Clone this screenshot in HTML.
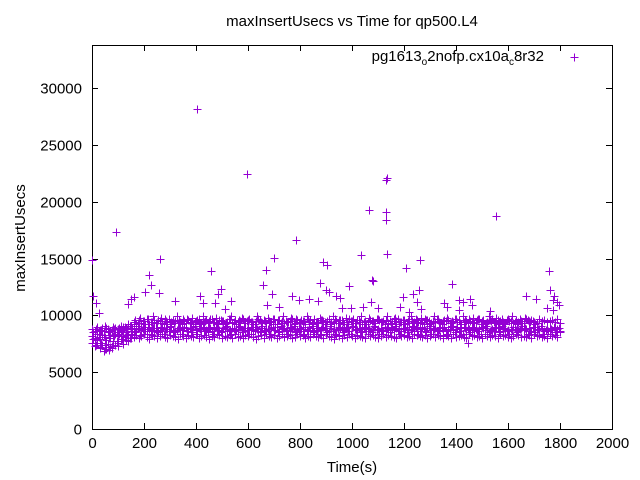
<!DOCTYPE html>
<html><head><meta charset="utf-8"><style>
html,body{margin:0;padding:0;background:#fff;}
svg{display:block;font-family:"Liberation Sans",sans-serif;}
</style></head><body>
<svg id="chart" width="640" height="480" viewBox="0 0 640 480">
<rect x="0" y="0" width="640" height="480" fill="#fff"/>
<text x="352" y="26" font-size="15" text-anchor="middle">maxInsertUsecs vs Time for qp500.L4</text>
<g id="axes"></g>
<g id="points"></g>
<text x="352" y="472" font-size="15" text-anchor="middle">Time(s)</text>
<text transform="translate(25,238) rotate(-90)" font-size="15" text-anchor="middle">maxInsertUsecs</text>
<g>
<text x="544" y="61" font-size="15" text-anchor="end">pg1613<tspan font-size="10" dy="4">o</tspan><tspan dy="-4">2nofp.cx10a</tspan><tspan font-size="10" dy="4">c</tspan><tspan dy="-4">8r32</tspan></text>
<path d="M570.5,57.5h8M574.5,53.5v8" stroke="#9400d3" stroke-width="1"/>
</g>
</svg>
<script>
const xTicks=[0,200,400,600,800,1000,1200,1400,1600,1800,2000];
const yTicks=[0,5000,10000,15000,20000,25000,30000];
const bandStart=0, bandStep=10;
const bandA=[76,73,78,71,74,70,75,72,77,74,76,79,75,78,77,80,
81,83,80,82,84,81,79,83,82,80,82,84,81,80,83,82,81,79,84,82,80,83,82,81,84,80,82,83,81,79,82,81,84,83,80,82,81,83,80,84,81,82,80,83,82,84,81,79,82,83,80,84,82,81,83,80,82,84,81,82,83,80,81,84,82,83,80,82,81,84,82,81,83,80,84,82,81,79,83,82,80,83,81,84,82,80,83,82,81,80,84,82,83,81,80,82,84,81,83,82,81,80,84,82,83,81,82,80,84,83,82,81,83,80,82,84,81,83,82,80,83,82,80,84,81,82,83,81,80,84,82,83,81,82,80,84,82,81,83,82,80,84,82,83,81,80,82,84,83,81,82,81,83,80,84,82,83,81,82,80,84,82,83,81,85];
const bandB=[82,80,84,79,83,81,85,80,82,84,83,86,82,85,84,86,
88,86,89,87,90,86,88,87,89,86,87,89,86,88,90,87,86,89,88,87,89,86,88,90,87,89,86,88,87,90,86,88,89,87,86,90,88,87,89,86,88,90,87,86,89,88,87,90,86,89,87,86,88,89,87,90,86,88,89,87,90,88,86,87,89,88,90,86,87,89,86,89,88,90,87,86,89,88,87,90,88,87,89,86,90,88,87,89,86,88,89,86,87,90,88,89,86,87,88,90,87,89,88,86,89,87,90,88,86,89,88,90,86,89,87,88,89,86,90,87,86,88,90,87,88,86,89,90,87,88,89,87,86,88,90,89,87,86,88,89,90,86,88,89,87,88,90,87,86,89,87,88,89,86,90,87,88,89,86,88,89,87,90,88,86];
const bandC=[88,86,90,87,89,91,88,86,90,89,88,91,90,89,92,91,
94,92,96,93,95,97,92,94,96,93,95,93,97,94,92,96,95,93,94,97,93,96,94,92,95,97,93,94,96,95,97,94,93,96,95,92,94,97,93,96,94,95,97,93,96,94,92,95,97,94,96,93,95,94,97,92,96,95,93,94,95,97,93,96,94,95,92,97,96,93,93,94,96,95,92,97,94,93,95,96,96,92,94,97,95,93,96,94,92,95,94,96,95,93,97,94,95,96,93,92,97,95,92,94,96,93,97,95,94,96,93,94,97,96,92,95,94,97,93,95,95,96,93,94,97,96,92,94,95,97,94,93,96,97,95,92,94,96,97,93,96,95,94,92,97,95,93,96,94,95,93,97,95,96,94,93,97,95,96,94,95,96,94,97,93];
const bandD=[79,74,81,76,83,78,80,73,82,77,84,79,81,83,80,84,
85,91,83,88,86,90,84,89,87,85,90,84,88,86,91,85,87,89,84,90,86,89,85,91,84,88,90,86,85,89,84,90,87,85,89,91,86,84,88,87,91,85,89,87,84,90,86,88,85,91,86,88,84,90,87,85,91,89,86,84,89,91,85,86,88,84,87,90,91,85,87,84,90,89,85,91,86,84,88,89,85,90,86,84,91,87,89,85,90,86,88,85,91,87,84,86,90,89,85,88,91,86,84,89,88,85,87,91,90,84,86,89,85,91,84,88,86,87,89,90,84,87,91,85,90,86,84,89,88,85,90,88,86,84,89,91,85,87,86,90,85,91,89,86,84,87,90,85,88,91,89,84,86,90,85,88,91,84,87,86,88,90,85,89,86];
const bandE=[85,88,84,87,86,89,83,87,88,85,89,87,90,88,91,89,
96,93,98,95,92,97,94,99,93,96,98,92,95,97,94,93,99,96,92,95,97,93,98,94,96,92,99,95,93,97,94,98,92,96,95,93,97,99,94,92,96,98,93,95,97,94,92,99,96,93,95,98,94,97,92,96,93,99,95,94,98,92,97,93,96,95,99,94,92,97,93,98,96,94,95,92,99,97,93,96,94,98,92,95,97,93,96,99,94,92,98,95,93,97,96,94,92,99,95,93,98,97,94,96,92,95,99,93,97,94,98,92,96,95,93,99,97,94,92,96,98,93,95,97,94,92,99,96,93,95,98,94,97,92,96,93,99,95,94,98,92,97,93,96,95,99,94,92,97,93,98,96,94,95,92];
const outT=[405,596,92,0,262,458,785,700,669,1065,1131,1133,1131,1131,1135,1035,1208,1262,1554,1077,1758,219,888,904,658,877,988,1081,227,204,258,149,161,5,15,27,138,319,415,427,473,496,485,535,512,692,673,719,769,796,835,869,912,900,938,954,962,996,1042,1073,1100,1385,1196,1235,1258,1250,1185,1219,1265,1354,1365,1412,1427,1454,1462,1412,1531,1669,1708,1762,1777,1773,1788,1750,1773,1796,1446,30,45,55,65,75,100,20,50];
const outV=[28150,22430,17330,14870,14960,13900,16630,15040,13990,19270,21900,22100,19090,18390,15400,15300,14160,14870,18740,13100,13900,13550,14700,14400,12670,12840,12580,13020,12670,12050,12000,11440,11610,11700,11080,10200,11000,11260,11700,11080,11080,12320,11880,11260,10560,11880,10910,10730,11700,11350,11440,11260,12050,12230,11700,11520,10640,10640,10730,11170,10640,12760,11610,11880,12230,11170,10730,10290,10560,11080,10730,11350,11170,11440,10910,10470,10380,11700,11440,12230,11700,11350,11170,10640,10470,10910,7570,7200,6900,7000,6950,7100,7300,7600,7400];

const X0=92,X1=612,Y0=429,Y1=45,XMAX=2000,YMAX=33785;
function sx(t){return X0+(t/XMAX)*(X1-X0);}
function sy(v){return Y0-(v/YMAX)*(Y0-Y1);}
const NS="http://www.w3.org/2000/svg";
const axes=document.getElementById('axes');
const pts=document.getElementById('points');
function mk(tag,attrs,parent){const e=document.createElementNS(NS,tag);for(const k in attrs)e.setAttribute(k,attrs[k]);parent.appendChild(e);return e;}

const frame=mk('rect',{x:X0+0.5,y:Y1+0.5,width:X1-X0,height:Y0-Y1,fill:'none',stroke:'#000','stroke-width':1},axes);


xTicks.forEach(t=>{
  const x=Math.round(sx(t))+0.5;
  const tk=mk('path',{d:`M${x},${Y0}v-6M${x},${Y1}v6`,stroke:'#000','stroke-width':1},axes);
  
  
  const lb=mk('text',{x:x,y:Y0+19,'font-size':15,'text-anchor':'middle'},axes);
  lb.textContent=t;
  
  
});
yTicks.forEach(v=>{
  const y=Math.round(sy(v))+0.5;
  const tk=mk('path',{d:`M${X0},${y}h6M${X1},${y}h-6`,stroke:'#000','stroke-width':1},axes);
  
  
  const lb=mk('text',{x:X0-10,y:y+5,'font-size':15,'text-anchor':'end'},axes);
  lb.textContent=v;
  
  
});
let d='';
function plus(t,v){const x=Math.round(sx(t))+0.5,y=Math.round(sy(v))+0.5;d+=`M${x-4},${y}h8M${x},${y-4}v8`;}
[bandA,bandB,bandC].forEach(arr=>arr.forEach((v,i)=>plus(bandStart+i*bandStep,v*100)));
bandD.forEach((v,i)=>{const t=bandStart+i*bandStep+5;if(t<=1800)plus(t,v*100);});
bandE.forEach((v,i)=>{const t=bandStart+i*bandStep+5;if(t<=1800)plus(t,v*100);});
outT.forEach((t,i)=>plus(t,outV[i]));
const p=mk('path',{d:d,stroke:'#9400d3','stroke-width':1,fill:'none'},pts);


</script>
</body></html>
